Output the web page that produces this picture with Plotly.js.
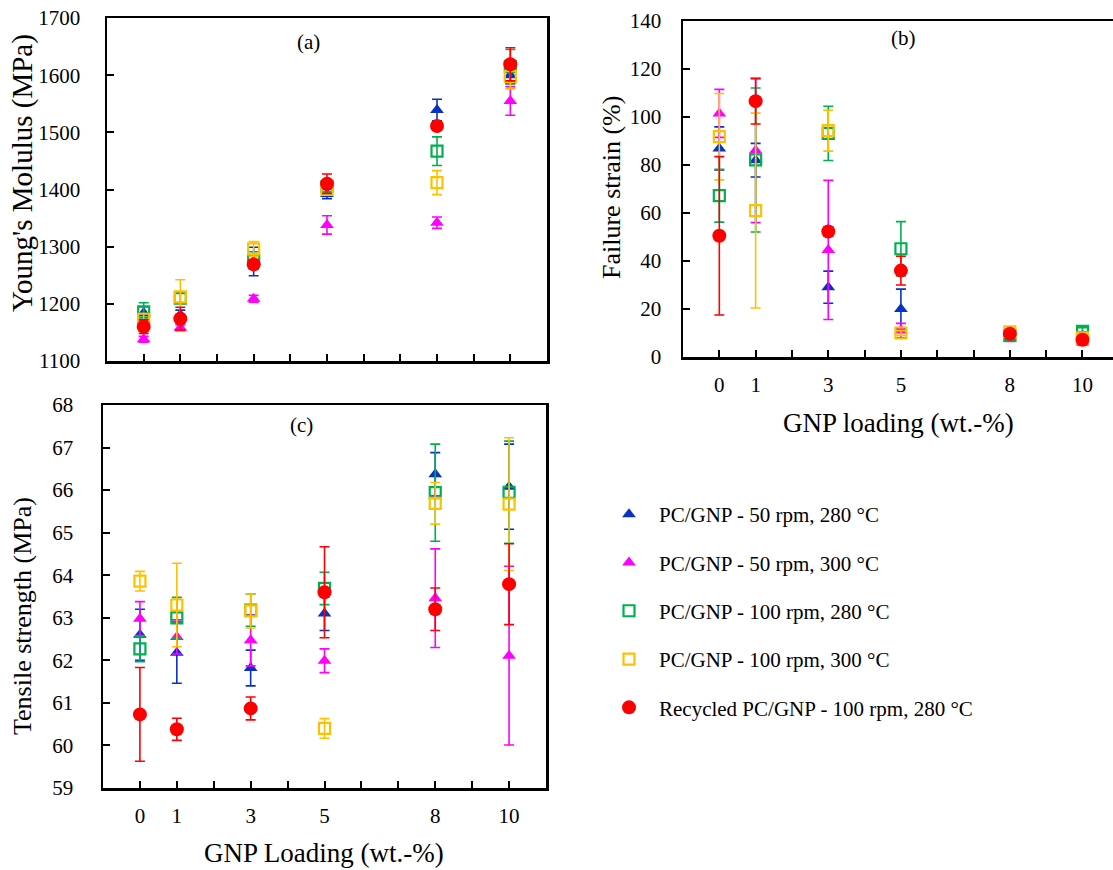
<!DOCTYPE html>
<html>
<head>
<meta charset="utf-8">
<script src="https://cdn.plot.ly/plotly-3.0.1.min.js"></script>
<style>html,body{margin:0;padding:0;background:#fff;overflow:hidden;}#chart{width:1113px;height:870px;}</style>
</head>
<body>
<div id="chart"></div>
<script>
// ---- data ----
const loading = [0, 1, 3, 5, 8, 10];
const seriesNames = [
  'PC/GNP - 50 rpm, 280 °C',
  'PC/GNP - 50 rpm, 300 °C',
  'PC/GNP - 100 rpm, 280 °C',
  'PC/GNP - 100 rpm, 300 °C',
  'Recycled PC/GNP - 100 rpm, 280 °C'
];
const xTickVals = [0, 1, 3, 5, 8, 10];
const xTickText = ['0', '1', '3', '5', '8', '10'];

// (a) Young's modulus (MPa)
const ymBlue = [1184, 1181, 1274, 1392, 1539, 1600];
const ymBlueErr = [11, 8, 25, 8, 19, 15];
const ymMagenta = [1138, 1158, 1209, 1338, 1342, 1555];
const ymMagentaErr = [5, 5, 6, 16, 10, 25];
const ymGreen = [1186, 1210, 1276, 1405, 1467, 1615];
const ymGreenErr = [16, 8, 15, 10, 25, 30];
const ymYellow = [1173, 1212, 1296, 1400, 1412, 1598];
const ymYellowErr = [10, 30, 13, 10, 21, 22];
const ymRed = [1160, 1174, 1269, 1410, 1511, 1619];
const ymRedErr = [12, 20, 8, 17, 7, 29];

// (b) Failure strain (%)
const fsBlue = [86.9, 82, 29.1, 20, 8.5, 9];
const fsBlueErr = [9, 7, 6.7, 8.3, 1, 1.5];
const fsMagenta = [101.5, 86, 44.6, 11, 7.5, 6];
const fsMagentaErr = [10, 30, 29, 3, 1, 1];
const fsGreen = [67.2, 82.1, 93.2, 45.1, 9, 10.7];
const fsGreenErr = [11, 30, 11.3, 11.3, 1, 1.5];
const fsYellow = [91.8, 61, 94.3, 10, 10.5, 8];
const fsYellowErr = [18, 40.6, 8.5, 1, 1, 1];
const fsRed = [50.5, 106.6, 52.3, 36, 9.7, 7.2];
const fsRedErr = [33, 9.5, 2, 6, 1, 1];

// (c) Tensile strength (MPa)
const tsBlue = [62.6, 62.18, 61.82, 63.1, 66.37, 66.08];
const tsBlueErr = [0.6, 0.72, 0.42, 0.4, 0.51, 1.0];
const tsMagenta = [62.98, 62.55, 62.47, 61.99, 63.46, 62.11];
const tsMagentaErr = [0.4, 0.4, 0.6, 0.28, 1.16, 2.1];
const tsGreen = [62.27, 63.0, 63.18, 63.69, 65.94, 65.95];
const tsGreenErr = [0.3, 0.48, 0.38, 0.38, 1.14, 1.2];
const tsYellow = [63.86, 63.3, 63.16, 60.4, 65.69, 65.67];
const tsYellowErr = [0.23, 0.98, 0.4, 0.23, 0.49, 1.56];
const tsRed = [60.73, 60.38, 60.87, 63.6, 63.2, 63.79];
const tsRedErr = [1.1, 0.26, 0.27, 1.07, 0.5, 0.95];

// ---- styles ----
const FONT = 'Liberation Serif, Times New Roman, serif';
const colors = ['#0a32c2', '#ff00ff', '#00b050', '#ffc000', '#ff0000'];
const markers = [
  {symbol: 'triangle-up', size: 12, color: colors[0]},
  {symbol: 'triangle-up', size: 12, color: colors[1]},
  {symbol: 'square-open', size: 11, color: colors[2], line: {width: 2.2, color: colors[2]}},
  {symbol: 'square-open', size: 11, color: colors[3], line: {width: 2.2, color: colors[3]}},
  {symbol: 'circle', size: 14, color: colors[4]}
];

const panels = [
  {xa: 'x', ya: 'y', vals: [ymBlue, ymMagenta, ymGreen, ymYellow, ymRed], errs: [ymBlueErr, ymMagentaErr, ymGreenErr, ymYellowErr, ymRedErr]},
  {xa: 'x2', ya: 'y2', vals: [fsBlue, fsMagenta, fsGreen, fsYellow, fsRed], errs: [fsBlueErr, fsMagentaErr, fsGreenErr, fsYellowErr, fsRedErr]},
  {xa: 'x3', ya: 'y3', vals: [tsBlue, tsMagenta, tsGreen, tsYellow, tsRed], errs: [tsBlueErr, tsMagentaErr, tsGreenErr, tsYellowErr, tsRedErr]}
];

const traces = [];
panels.forEach((p, pi) => {
  for (let s = 0; s < 5; s++) {
    traces.push({
      type: 'scatter', mode: 'markers',
      x: loading, y: p.vals[s],
      xaxis: p.xa, yaxis: p.ya,
      name: seriesNames[s],
      legendgroup: 'g' + s,
      showlegend: pi === 0,
      marker: markers[s],
      error_y: {type: 'data', array: p.errs[s], visible: true, color: colors[s], thickness: 1.6, width: 5},
      cliponaxis: false
    });
  }
});

const W = 1113, H = 870;
const axLine = {showline: true, linecolor: '#000', linewidth: 2.5, showgrid: false, zeroline: false,
  ticks: 'inside', ticklen: 7, tickwidth: 2, tickcolor: '#000',
  tickfont: {family: FONT, size: 21, color: '#000'}};

function xax(anchor, domain, range, labels, mirror) {
  return Object.assign({}, axLine, {
    anchor: anchor, domain: domain, range: range, mirror: mirror,
    tickmode: 'array', tickvals: xTickVals, ticktext: xTickText,
    showticklabels: labels, ticklabelstandoff: 7,
    minor: {tickmode: 'linear', tick0: 0, dtick: 1, ticks: 'inside', ticklen: 7, tickwidth: 2, tickcolor: '#000'}
  });
}
function yax(anchor, domain, range, dtick, mirror, standoff) {
  return Object.assign({}, axLine, {
    anchor: anchor, domain: domain, range: range, mirror: mirror, dtick: dtick, tick0: 0,
    ticklabelstandoff: standoff
  });
}

function ann(text, x, y, angle, size) {
  return {text: text, xref: 'paper', yref: 'paper', x: x / W, y: 1 - y / H,
    xanchor: 'center', yanchor: 'middle', showarrow: false, textangle: angle,
    font: {family: FONT, size: size, color: '#000'}};
}

const layout = {
  width: W, height: H,
  margin: {l: 0, r: 0, t: 0, b: 0},
  paper_bgcolor: '#fff', plot_bgcolor: 'rgba(0,0,0,0)',
  font: {family: FONT, color: '#000'},
  showlegend: true,
  xaxis: xax('y', [107 / W, 547 / W], [-1, 11], false, true),
  yaxis: yax('x', [1 - 361 / H, 1 - 18 / H], [1100, 1700], 100, true, 20),
  xaxis2: xax('y2', [683 / W, 1], [-1, 10.84], true, true),
  yaxis2: yax('x2', [1 - 357 / H, 1 - 21 / H], [0, 140], 20, false, 15),
  xaxis3: xax('y3', [103 / W, 546 / W], [-1, 11], true, true),
  yaxis3: yax('x3', [1 - 788 / H, 1 - 405 / H], [59, 68], 1, true, 23),
  legend: {
    x: 599 / W, y: 1 - 494 / H, xanchor: 'left', yanchor: 'top',
    font: {family: FONT, size: 21, color: '#000'},
    bgcolor: 'rgba(0,0,0,0)', borderwidth: 0,
    itemwidth: 50, tracegroupgap: 18, traceorder: 'grouped'
  },
  annotations: [
    ann("Young's Molulus (MPa)", 22, 173, -90, 29),
    ann('Failure strain (%)', 611, 188, -90, 26),
    ann('Tensile strength (MPa)', 22, 616, -90, 26),
    ann('GNP loading (wt.-%)', 898, 423, 0, 27),
    ann('GNP Loading (wt.-%)', 324, 853, 0, 27),
    ann('(a)', 308, 42, 0, 21),
    ann('(b)', 903, 38, 0, 21),
    ann('(c)', 301, 425, 0, 21)
  ]
};

Plotly.newPlot('chart', traces, layout, {displayModeBar: false, staticPlot: true});
</script>
</body>
</html>
